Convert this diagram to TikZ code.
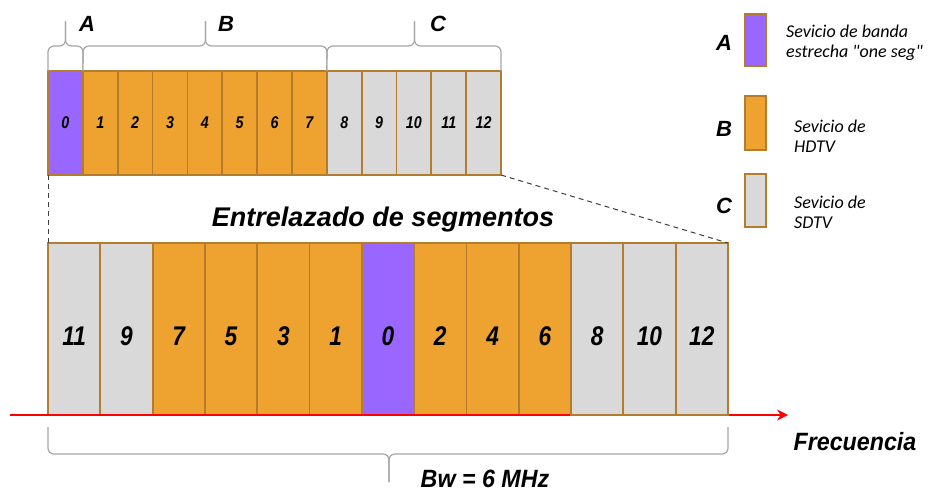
\documentclass[tikz,border=0pt]{standalone}
\usepackage{fontspec}
\setmainfont{Liberation Sans}
\newfontfamily\legfont{Carlito}
\newfontfamily\narrowfont[FakeStretch=0.84]{Liberation Sans}
\newfontfamily\semifont[FakeStretch=0.93]{Liberation Sans}
\usetikzlibrary{arrows.meta}
\definecolor{segpurple}{HTML}{9966FF}
\definecolor{segorange}{HTML}{EEA230}
\definecolor{seggray}{HTML}{D9D9D9}
\definecolor{segedge}{HTML}{B47D2E}
\definecolor{bracegray}{HTML}{A6A6A6}
\definecolor{dashgray}{HTML}{404040}
\begin{document}
\begin{tikzpicture}[x=1pt,y=-1pt,
  seg/.style={draw=segedge,line width=1.8pt,inner sep=0pt,outer sep=0pt},
  topseg/.style={seg,minimum width=34.85pt,minimum height=104pt,
    font=\narrowfont\bfseries\itshape\fontsize{17}{17}\selectfont},
  botseg/.style={seg,minimum width=52.3pt,minimum height=172pt},
  botnum/.style={anchor=base,inner sep=0pt,font=\narrowfont\bfseries\itshape\fontsize{27}{27}\selectfont},
  biglabel/.style={font=\bfseries\itshape\fontsize{22}{22}\selectfont},
  legtext/.style={font=\legfont\itshape\fontsize{18}{18}\selectfont,anchor=base west,inner sep=0pt},
  legbox/.style={seg,minimum width=21pt},
  bracket/.style={draw=bracegray,line width=1.2pt,rounded corners=6pt},
  zoomline/.style={draw=dashgray,line width=1pt,dash pattern=on 5pt off 4pt}]
\useasboundingbox (0,0) rectangle (928,493);

% upper row: segments in numeric order
\foreach \i/\c in {0/segpurple,1/segorange,2/segorange,3/segorange,4/segorange,
    5/segorange,6/segorange,7/segorange,8/seggray,9/seggray,10/seggray,11/seggray,12/seggray}
  \node[topseg,fill=\c] (t\i) at ({48+34.85*(\i+0.5)},123) {\i};

% braces over the groups A, B, C
\coordinate (ta) at (65.5,21);
\coordinate (tb) at (205.5,21);
\coordinate (tc) at (414.5,21);
\draw[bracket] (t0.north west) -- (48,46) -- (65.5,46) -- (ta);
\draw[bracket] (t0.north east) -- (83,46) -- (65.5,46) -- (ta);
\draw[bracket] (t1.north west) -- (83,46) -- (205.5,46) -- (tb);
\draw[bracket] (t7.north east) -- (327,46) -- (205.5,46) -- (tb);
\draw[bracket] (t8.north west) -- (327,46) -- (414.5,46) -- (tc);
\draw[bracket] (t12.north east) -- (501,46) -- (414.5,46) -- (tc);
\node[biglabel] (la) at (87,23.5) {A};
\node[biglabel] (lb) at (226,23.5) {B};
\node[biglabel] (lc) at (438,23.5) {C};

% lower row: interleaved segments
\foreach \n/\c [count=\k from 0] in {11/seggray,9/seggray,7/segorange,5/segorange,
    3/segorange,1/segorange,0/segpurple,2/segorange,4/segorange,6/segorange}
{
  \node[botseg,fill=\c] (b\n) at ({48+52.3*(\k+0.5)},329) {};
  \node[botnum] (n\n) at ({48+52.3*(\k+0.5)},345) {\n};
}

% frequency axis
\coordinate (fstart) at (10,415);
\coordinate (fend) at (788,415);
\draw[red,line width=2.4pt,-{Stealth[length=11pt,width=11pt]}] (fstart) -- (fend);

\foreach \n [count=\k from 10] in {8,10,12}
{
  \node[botseg,fill=seggray] (b\n) at ({48+52.3*(\k+0.5)},329) {};
  \node[botnum] (n\n) at ({48+52.3*(\k+0.5)},345) {\n};
}

% zoom lines from the upper row to the lower row
\draw[zoomline] (t0.south west) -- (b11.north west);
\draw[zoomline] (t12.south east) -- (b12.north east);

\node[anchor=base,font=\bfseries\itshape\fontsize{27}{27}\selectfont] (title) at (383,226) {Entrelazado de segmentos};

% bandwidth brace
\coordinate (bw) at (389,482);
\draw[bracket] (48,427) -- (48,454) -- (389,454) -- (bw);
\draw[bracket] (728,427) -- (728,454) -- (389,454) -- (bw);
\node[anchor=base,inner sep=0pt,font=\semifont\bfseries\itshape\fontsize{25}{25}\selectfont] (bwtext) at (485,487.5) {Bw = 6 MHz};
\node[anchor=base,inner sep=0pt,font=\semifont\bfseries\itshape\fontsize{25}{25}\selectfont] (freq) at (855,450) {Frecuencia};

% legend
\node[legbox,fill=segpurple,minimum height=52pt] (ka) at (755.5,40) {};
\node[legbox,fill=segorange,minimum height=54pt] (kb) at (755.5,123) {};
\node[legbox,fill=seggray,minimum height=53pt] (kc) at (755.5,200.5) {};
\node[biglabel] (ma) at (724,42.5) {A};
\node[biglabel] (mb) at (724,129) {B};
\node[biglabel] (mc) at (724,206) {C};
\node[legtext] (da1) at (786,37) {Sevicio de banda};
\node[legtext] (da2) at (786,57) {estrecha "one seg"};
\node[legtext] (db1) at (794,132) {Sevicio de};
\node[legtext] (db2) at (794,152) {HDTV};
\node[legtext] (dc1) at (794,208) {Sevicio de};
\node[legtext] (dc2) at (794,228) {SDTV};
\end{tikzpicture}
\end{document}
